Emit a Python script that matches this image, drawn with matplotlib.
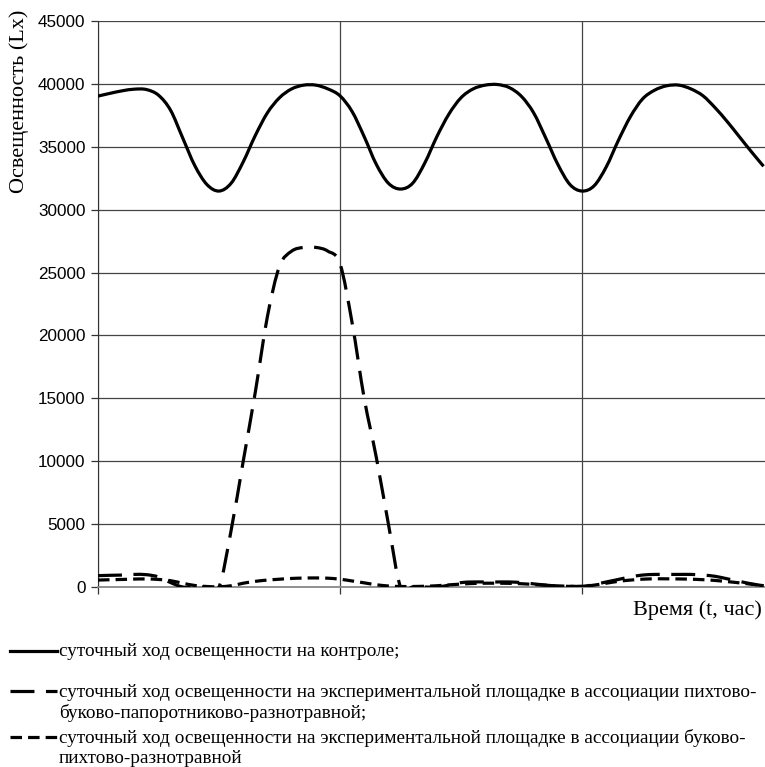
import numpy as np
import matplotlib
matplotlib.use("Agg")
import matplotlib.pyplot as plt
from matplotlib.lines import Line2D
from matplotlib.path import Path
from matplotlib.patches import PathPatch

# time axis (arbitrary units, gridlines every 10)
t = np.arange(0, 28, 0.5)

control = [39030, 39250, 39450, 39580, 39550, 39100, 37900, 35700, 33500, 32000,
           31480, 32100, 33800, 35900, 37700, 38900, 39600, 39900, 39900, 39600,
           39050, 37800, 35800, 33600, 32100, 31640, 32100, 33700, 35800, 37600,
           38900, 39600, 39900, 39950, 39700, 39000, 37700, 35700, 33600, 32000,
           31480, 31900, 33400, 35500, 37400, 38800, 39500, 39850, 39900, 39600,
           39050, 38100, 37000, 35800, 34600, 33450]

fir_beech_fern = [900, 930, 950, 1000, 980, 800, 350, 0, 0, 0,
                  0, 4500, 10000, 15500, 21500, 25500, 26700, 27000, 27000, 26700,
                  25700, 21000, 15000, 10300, 5000, 0, 0, 0, 0, 150,
                  350, 400, 400, 400, 400, 350, 250, 150, 80, 50,
                  50, 200, 400, 600, 800, 950, 1000, 1000, 1000, 1000,
                  950, 850, 650, 450, 250, 100]

beech_fir = [550, 580, 600, 630, 640, 600, 500, 300, 120, 40,
             20, 100, 300, 450, 550, 620, 680, 710, 720, 700,
             620, 480, 330, 180, 80, 40, 40, 60, 100, 170,
             230, 280, 300, 300, 290, 260, 200, 140, 90, 60,
             50, 150, 300, 450, 550, 620, 650, 650, 640, 620,
             580, 520, 430, 330, 220, 110]

legend_texts = [
    "суточный ход освещенности на контроле;",
    "суточный ход освещенности на экспериментальной площадке в ассоциации пихтово-\nбуково-папоротниково-разнотравной;",
    "суточный ход освещенности на экспериментальной площадке в ассоциации буково-\nпихтово-разнотравной",
]

serif = "Liberation Serif"
sans = "Liberation Sans"
dash_long = (0, (7.5, 3.6))
dash_short = (0, (3.6, 1.9))


def smooth_path(x, y):
    # Excel-like smoothed line: Catmull-Rom drawn as cubic Bezier segments
    x = np.asarray(x, float)
    y = np.asarray(y, float)
    pts = np.column_stack([x, y])
    verts = [pts[0]]
    codes = [Path.MOVETO]
    n = len(pts)
    for i in range(n - 1):
        p0 = pts[max(i - 1, 0)]
        p1 = pts[i]
        p2 = pts[i + 1]
        p3 = pts[min(i + 2, n - 1)]
        c1 = p1 + (p2 - p0) / 6
        c2 = p2 - (p3 - p1) / 6
        verts += [c1, c2, p2]
        codes += [Path.CURVE4] * 3
    return Path(verts, codes)


fig = plt.figure(figsize=(7.65, 7.67), dpi=100)
ax = fig.add_axes([98 / 765, 1 - 587 / 767, 1 - 98 / 765, (587 - 21) / 767])

lw = 2.3
for series, ls in [(control, "-"), (fir_beech_fern, dash_long), (beech_fir, dash_short)]:
    ax.add_patch(PathPatch(smooth_path(t, series), fill=False, edgecolor="black",
                           lw=lw, linestyle=ls, joinstyle="round", zorder=3))

ax.set_xlim(0, 27.56)
ax.set_ylim(0, 45000)
ax.set_yticks(np.arange(0, 45001, 5000))
ax.set_xticks([0, 10, 20])
ax.set_xticklabels([])
ax.grid(True, color="#444444", lw=0.9)
ax.set_axisbelow(True)
for s in ["top", "right"]:
    ax.spines[s].set_visible(False)
ax.spines["left"].set_color("#333333")
ax.spines["bottom"].set_color("#888888")
ax.spines["bottom"].set_linewidth(1.3)
ax.tick_params(axis="y", length=5, width=0.9, color="#333333", pad=4)
ax.tick_params(axis="x", length=5, width=0.9, color="#333333")
for lab in ax.get_yticklabels():
    lab.set_fontfamily(sans)
    lab.set_fontsize(12.3)

ax.set_ylabel("Освещенность (Lx)", fontfamily=serif, fontsize=16)
ax.yaxis.set_label_coords(-0.103, 1.02, transform=ax.transAxes)
ax.yaxis.label.set_ha("right")

fig.text(762 / 765, 1 - 610 / 767, "Время (t, час)", fontfamily=serif,
         fontsize=16, ha="right", va="center")

# legend drawn below the plot
W, H = 765, 767
samples = [("-", 651), (dash_long, 691), (dash_short, 737)]
text_y = [651, 703, 748]
for (ls, y), txt, ty in zip(samples, legend_texts, text_y):
    fig.add_artist(Line2D([10 / W, 57 / W], [1 - y / H, 1 - y / H],
                          color="black", lw=lw, linestyle=ls))
    fig.text(59 / W, 1 - ty / H, txt, fontfamily=serif, fontsize=13.9,
             ha="left", va="center", linespacing=1.2)

fig.savefig("out.png", dpi=100)
